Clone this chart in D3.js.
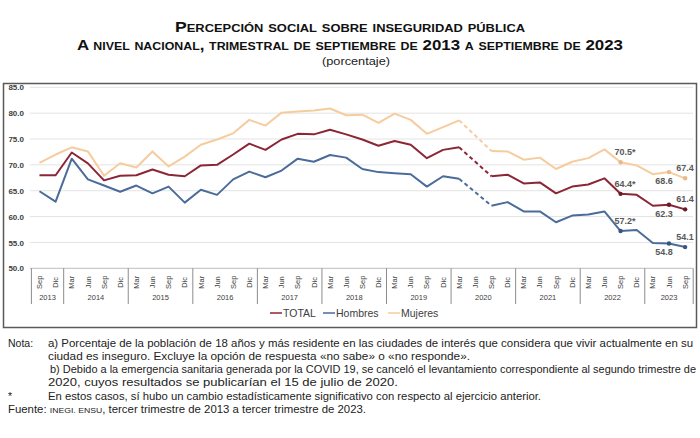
<!DOCTYPE html>
<html><head><meta charset="utf-8">
<script src="https://cdn.jsdelivr.net/npm/d3@7"></script>
<style>body{margin:0;background:#fff}svg{display:block}</style>
</head><body>
<svg id="c" width="700" height="438"></svg>
<script>
const months = ["Sep","Dic","Mar","Jun","Sep","Dic","Mar","Jun","Sep","Dic","Mar","Jun","Sep","Dic","Mar","Jun","Sep","Dic","Mar","Jun","Sep","Dic","Mar","Jun","Sep","Dic","Mar","Jun","Sep","Dic","Mar","Jun","Sep","Dic","Mar","Jun","Sep","Dic","Mar","Jun","Sep"];
const years = [{y:"2013",from:0,to:1},{y:"2014",from:2,to:5},{y:"2015",from:6,to:9},{y:"2016",from:10,to:13},{y:"2017",from:14,to:17},{y:"2018",from:18,to:21},{y:"2019",from:22,to:25},{y:"2020",from:26,to:29},{y:"2021",from:30,to:33},{y:"2022",from:34,to:37},{y:"2023",from:38,to:40}];
const total = [68.0,68.0,72.4,70.3,67.0,67.9,68.0,69.1,68.1,67.8,69.9,70.0,72.0,74.1,72.9,74.9,76.0,75.9,76.8,75.9,74.9,73.7,74.6,73.9,71.3,72.9,73.4,null,67.8,68.1,66.4,66.6,64.5,65.8,66.2,67.4,64.4,64.2,62.1,62.3,61.4];
const hombres = [64.9,62.9,71.2,67.2,66.0,64.8,66.0,64.5,65.8,62.7,65.2,64.2,67.2,68.7,67.6,68.9,71.2,70.6,71.9,71.4,69.2,68.6,68.4,68.2,65.8,67.8,67.3,null,62.1,62.8,61.0,61.0,58.9,60.2,60.4,61.0,57.2,57.4,54.9,54.8,54.1];
const mujeres = [70.4,72.0,73.4,72.6,67.9,70.3,69.5,72.6,69.7,71.6,73.9,74.9,76.1,78.7,77.6,80.1,80.3,80.5,80.9,79.6,79.7,78.1,79.9,78.7,76.0,77.3,78.6,null,72.7,72.6,71.0,71.4,69.2,70.6,71.3,73.0,70.5,69.9,68.2,68.6,67.4];
const yTicks = [50,55,60,65,70,75,80,85];
const seriesNames = ["TOTAL","Hombres","Mujeres"];
const markIdx = [36,39,40];
const labels = [
  {s:2,i:36,t:"70.5*",pos:"aboveR"},{s:0,i:36,t:"64.4*",pos:"aboveR"},{s:1,i:36,t:"57.2*",pos:"aboveR"},
  {s:2,i:39,t:"68.6",pos:"below"},{s:2,i:40,t:"67.4",pos:"above"},
  {s:0,i:39,t:"62.3",pos:"below"},{s:0,i:40,t:"61.4",pos:"above"},
  {s:1,i:39,t:"54.8",pos:"below"},{s:1,i:40,t:"54.1",pos:"above"}
];
const notes = [
  {x:8,y:347,t:"Nota:"},
  {x:48,y:347,t:"a) Porcentaje de la población de 18 años y más residente en las ciudades de interés que considera que vivir actualmente en su",w:645},
  {x:48,y:360,t:"ciudad es inseguro. Excluye la opción de respuesta «no sabe» o «no responde».",w:422},
  {x:50,y:373,t:"b) Debido a la emergencia sanitaria generada por la COVID 19, se canceló el levantamiento correspondiente al segundo trimestre de",w:646},
  {x:48,y:386,t:"2020, cuyos resultados se publicarían el 15 de julio de 2020.",w:350},
  {x:8,y:400,t:"*"},
  {x:48,y:400,t:"En estos casos, sí hubo un cambio estadísticamente significativo con respecto al ejercicio anterior.",w:493}
];

const colors = ["#8b2636","#4b6c9a","#f6cc9e"];
const dotColors = ["#6b1a28","#36557f","#e9b987"];
const data = [total,hombres,mujeres];

const svg = d3.select("#c");
const FF = "'Liberation Sans', Arial, sans-serif";

// Title
svg.append("text").attr("x",350).attr("y",32).attr("text-anchor","middle")
  .attr("font-family",FF).attr("font-weight","bold").attr("font-size",15).attr("fill","#111")
  .attr("font-variant","small-caps").attr("textLength",350).attr("lengthAdjust","spacingAndGlyphs")
  .text("Percepción social sobre inseguridad pública");
svg.append("text").attr("x",350).attr("y",50).attr("text-anchor","middle")
  .attr("font-family",FF).attr("font-weight","bold").attr("font-size",15).attr("fill","#111")
  .attr("font-variant","small-caps").attr("textLength",546).attr("lengthAdjust","spacingAndGlyphs")
  .text("A nivel nacional, trimestral de septiembre de 2013 a septiembre de 2023");
svg.append("text").attr("x",356).attr("y",65).attr("text-anchor","middle")
  .attr("font-family",FF).attr("font-size",11.5).attr("fill","#222")
  .attr("textLength",68).attr("lengthAdjust","spacingAndGlyphs").text("(porcentaje)");

// Frame
svg.append("rect").attr("x",3.5).attr("y",83.5).attr("width",693).attr("height",244)
  .attr("fill","none").attr("stroke","#5a5a5a").attr("stroke-width",1.5);

const x = d3.scaleBand().domain(d3.range(months.length)).range([31.4,693.2]).padding(0);
const cx = i => x(i) + x.bandwidth()/2;
const y = d3.scaleLinear().domain([50,85]).range([268.3,87.3]);

// grid
svg.append("g").selectAll("line").data(yTicks).join("line")
  .attr("x1",30).attr("x2",693).attr("y1",d=>y(d)).attr("y2",d=>y(d))
  .attr("stroke",d=>d===50?"#bdbdbd":"#e3e3e3").attr("stroke-width",1);

// y axis labels
const yAxis = d3.axisLeft(y).tickValues(yTicks).tickFormat(d3.format(".1f")).tickSize(0).tickPadding(0);
const ya = svg.append("g").attr("transform","translate(24,0)").call(yAxis);
ya.select(".domain").remove();
ya.selectAll("text").attr("font-family",FF).attr("font-weight","bold").attr("font-size",8).attr("fill","#404040");

// x axis month labels
const xAxis = d3.axisBottom(x).tickFormat(i=>months[i]).tickSize(0).tickPadding(0);
const xa = svg.append("g").attr("transform","translate(0,268.3)").call(xAxis);
xa.select(".domain").remove();
xa.selectAll("text").attr("font-family",FF).attr("font-size",7.5).attr("fill","#404040")
  .attr("transform","translate(0,14) rotate(-90)").attr("text-anchor","middle").attr("dy","0.35em").attr("y",0).attr("x",0);

// year separators & labels
const seps = years.map(g=>x(g.from)).concat([x(years[years.length-1].to)+x.bandwidth()]);
svg.append("g").selectAll("line").data(seps).join("line")
  .attr("x1",d=>d).attr("x2",d=>d).attr("y1",268.3).attr("y2",304)
  .attr("stroke","#8c8c8c").attr("stroke-width",1);
svg.append("g").selectAll("text").data(years).join("text")
  .attr("x",g=>(x(g.from)+x(g.to)+x.bandwidth())/2).attr("y",300)
  .attr("text-anchor","middle").attr("font-family",FF).attr("font-size",7.5).attr("fill","#404040")
  .text(g=>g.y);

// lines
const line = d3.line().defined(d=>d.v!=null).x(d=>cx(d.i)).y(d=>y(d.v));
data.slice().reverse().forEach((arr,ri)=>{
  const s = 2-ri;
  const pts = arr.map((v,i)=>({i,v}));
  svg.append("path").attr("d",line(pts)).attr("fill","none").attr("stroke",colors[s])
    .attr("stroke-width",2).attr("stroke-linejoin","round");
  const gi = arr.findIndex(v=>v==null);
  const seg = [pts[gi-1],pts[gi+1]];
  svg.append("path").attr("d",d3.line().x(d=>cx(d.i)).y(d=>y(d.v))(seg)).attr("fill","none")
    .attr("stroke",colors[s]).attr("stroke-width",2).attr("stroke-dasharray","4,3");
  svg.append("g").selectAll("circle").data(markIdx).join("circle")
    .attr("cx",i=>cx(i)).attr("cy",i=>y(arr[i])).attr("r",2.2).attr("fill",dotColors[s]);
});

// data labels
svg.append("g").selectAll("text").data(labels).join("text")
  .attr("x",d=>d.pos==="aboveR"? cx(d.i)-6 : cx(d.i)-(d.pos==="below"?5:0))
  .attr("y",d=>{const py=y(data[d.s][d.i]); return d.pos==="below"? py+12 : py-7;})
  .attr("text-anchor",d=>d.pos==="aboveR"?"start":"middle")
  .attr("font-family",FF).attr("font-weight","bold").attr("font-size",9).attr("fill","#595959")
  .text(d=>d.t);

// legend
const legX = [270,323,388];
seriesNames.forEach((n,k)=>{
  svg.append("line").attr("x1",legX[k]).attr("x2",legX[k]+12).attr("y1",313).attr("y2",313)
    .attr("stroke",colors[k]).attr("stroke-width",1.5);
  svg.append("text").attr("x",legX[k]+13).attr("y",317).attr("font-family",FF).attr("font-size",10.5)
    .attr("fill","#404040").text(n);
});

// notes
svg.append("g").selectAll("text").data(notes).join("text")
  .attr("x",d=>d.x).attr("y",d=>d.y).attr("font-family",FF).attr("font-size",10.5).attr("fill","#222")
  .each(function(d){ if(d.w) d3.select(this).attr("textLength",d.w).attr("lengthAdjust","spacingAndGlyphs"); })
  .text(d=>d.t);
const f = svg.append("text").attr("x",8).attr("y",413).attr("font-family",FF).attr("font-size",10.5).attr("fill","#222")
  .attr("textLength",358).attr("lengthAdjust","spacingAndGlyphs");
f.append("tspan").text("Fuente: ");
f.append("tspan").attr("font-size",8).text("INEGI. ENSU");
f.append("tspan").text(", tercer trimestre de 2013 a tercer trimestre de 2023.");
</script>
</body></html>
